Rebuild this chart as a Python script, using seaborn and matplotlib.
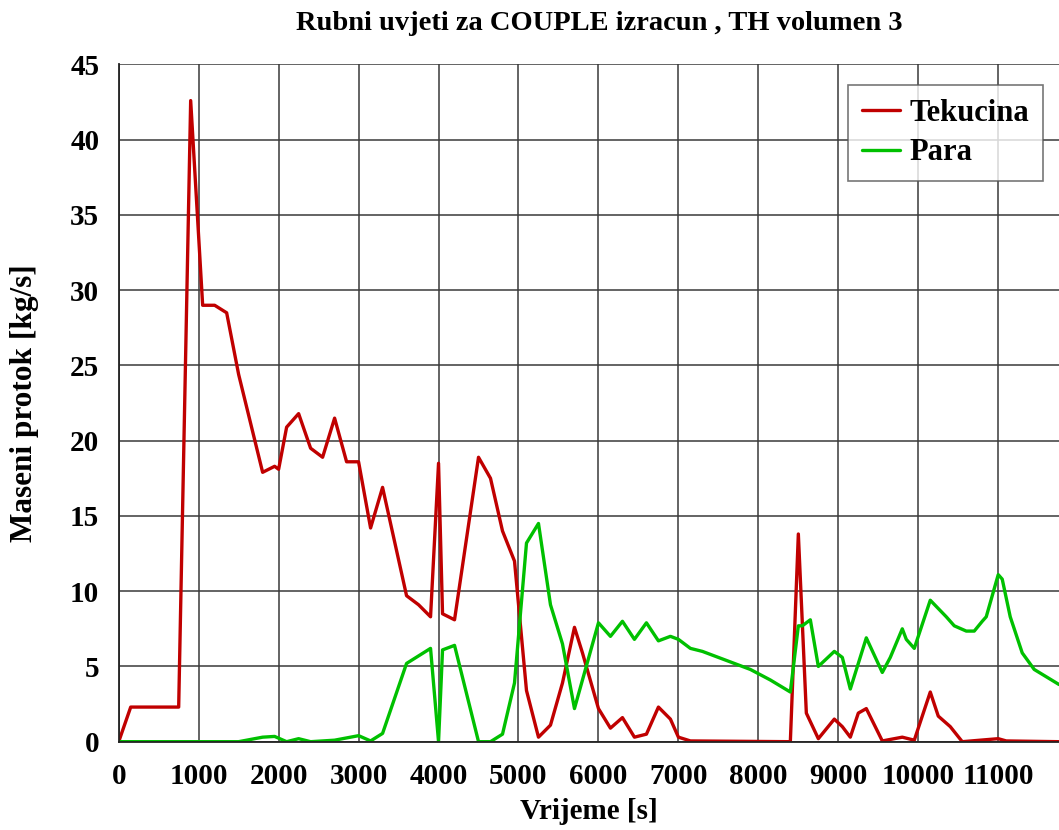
import matplotlib
matplotlib.use("Agg")
import matplotlib.pyplot as plt
import seaborn as sns
import pandas as pd

# Liquid mass flow (Tekucina)
t_liquid = [0, 150, 750, 900, 1050, 1200, 1350, 1500, 1800, 1950, 2000, 2100, 2250,
            2400, 2550, 2700, 2850, 3000, 3150, 3300, 3600, 3750, 3900, 4000, 4050,
            4200, 4500, 4650, 4800, 4950, 5100, 5250, 5400, 5550, 5700, 5800, 6000,
            6150, 6300, 6450, 6600, 6750, 6900, 7000, 7150, 8400, 8500, 8600, 8750,
            8950, 9050, 9150, 9250, 9350, 9550, 9800, 9950, 10150, 10250, 10400,
            10550, 11000, 11100, 11760]
m_liquid = [0.0, 2.3, 2.3, 42.6, 29.0, 29.0, 28.5, 24.4, 17.9, 18.3, 18.1, 20.9, 21.8,
            19.5, 18.9, 21.5, 18.6, 18.6, 14.2, 16.9, 9.7, 9.1, 8.3, 18.5, 8.5,
            8.1, 18.9, 17.5, 14.0, 12.0, 3.4, 0.3, 1.1, 3.9, 7.6, 5.9, 2.2,
            0.9, 1.6, 0.3, 0.5, 2.3, 1.5, 0.3, 0.05, 0.0, 13.8, 1.9, 0.2,
            1.5, 1.0, 0.3, 1.9, 2.2, 0.05, 0.3, 0.1, 3.3, 1.7, 1.0,
            0.0, 0.2, 0.05, 0.0]

# Vapour mass flow (Para)
t_vapour = [0, 1500, 1800, 1950, 2100, 2250, 2400, 2700, 3000, 3150, 3300, 3600, 3750,
            3900, 4000, 4050, 4200, 4500, 4650, 4800, 4950, 5100, 5250, 5400, 5550,
            5700, 6000, 6150, 6300, 6450, 6600, 6750, 6900, 7000, 7150, 7300, 7450,
            7600, 7900, 8150, 8400, 8500, 8550, 8650, 8750, 8950, 9050, 9150, 9350,
            9550, 9650, 9800, 9850, 9950, 10150, 10350, 10450, 10600, 10700, 10800,
            10850, 11000, 11050, 11150, 11300, 11450, 11760]
m_vapour = [0.0, 0.0, 0.3, 0.35, 0.0, 0.2, 0.0, 0.1, 0.4, 0.05, 0.55, 5.2, 5.7,
            6.2, 0.0, 6.1, 6.4, 0.0, 0.0, 0.5, 3.9, 13.2, 14.5, 9.1, 6.5,
            2.2, 7.9, 7.0, 8.0, 6.8, 7.9, 6.7, 7.0, 6.8, 6.2, 6.0, 5.7,
            5.4, 4.8, 4.1, 3.3, 7.7, 7.7, 8.1, 5.0, 6.0, 5.6, 3.5, 6.9,
            4.6, 5.6, 7.5, 6.8, 6.2, 9.4, 8.3, 7.7, 7.35, 7.35, 8.0,
            8.3, 11.1, 10.8, 8.3, 5.9, 4.8, 3.8]

series_names = ["Tekucina", "Para"]
series_colors = ["#C00000", "#00C000"]

df = pd.concat([
    pd.DataFrame({"t": t_liquid, "m": m_liquid, "serija": series_names[0]}),
    pd.DataFrame({"t": t_vapour, "m": m_vapour, "serija": series_names[1]}),
], ignore_index=True)

sns.set_style("white")
plt.rcParams["font.family"] = ["Liberation Serif", "DejaVu Serif"]
plt.rcParams["font.weight"] = "bold"
plt.rcParams["text.color"] = "black"
plt.rcParams["axes.labelcolor"] = "black"
plt.rcParams["xtick.color"] = "black"
plt.rcParams["ytick.color"] = "black"

fig = plt.figure(figsize=(10.59, 8.30), dpi=100)
ax = fig.add_axes([0.1121, 0.1064, 1.0 - 0.1121, 0.9223 - 0.1064])

sns.lineplot(data=df, x="t", y="m", hue="serija", hue_order=series_names,
             palette=series_colors, linewidth=2.4, sort=False, ax=ax,
             estimator=None)

ax.set_xlim(0, 11760)
ax.set_ylim(0, 45)
ax.set_xticks(range(0, 11001, 1000))
ax.set_yticks(range(0, 46, 5))
ax.grid(True, color="#3a3a3a", linewidth=1.3, alpha=0.85)
ax.set_axisbelow(True)

ax.spines["right"].set_visible(False)
ax.spines["top"].set_visible(False)
for side in ["left", "bottom"]:
    ax.spines[side].set_color("#222222")
    ax.spines[side].set_linewidth(1.3)

ax.tick_params(axis="both", which="major", direction="out", length=9, width=1.2,
               color="#333333", labelsize=21, labelcolor="black", pad=5)
ax.tick_params(axis="x", pad=6)
for lab in ax.get_xticklabels() + ax.get_yticklabels():
    lab.set_fontweight("bold")

ax.set_xlabel("Vrijeme [s]", fontsize=21, fontweight="bold", labelpad=6)
ax.set_ylabel("Maseni protok [kg/s]", fontsize=22.5, fontweight="bold", labelpad=22)
fig.text(0.566, 0.972, "Rubni uvjeti za COUPLE izracun , TH volumen 3",
         ha="center", va="center", fontsize=20.5, fontweight="bold")

leg = ax.legend(loc="upper right", bbox_to_anchor=(0.983, 0.97),
                frameon=True, fancybox=False, edgecolor="#555555",
                handlelength=1.25, handletextpad=0.3, borderpad=0.45,
                labelspacing=0.35, borderaxespad=0.0,
                prop={"weight": "bold", "size": 22})
leg.get_frame().set_linewidth(1.2)
for line in leg.get_lines():
    line.set_linewidth(2.4)

fig.savefig("out.png", dpi=100, facecolor="white")
